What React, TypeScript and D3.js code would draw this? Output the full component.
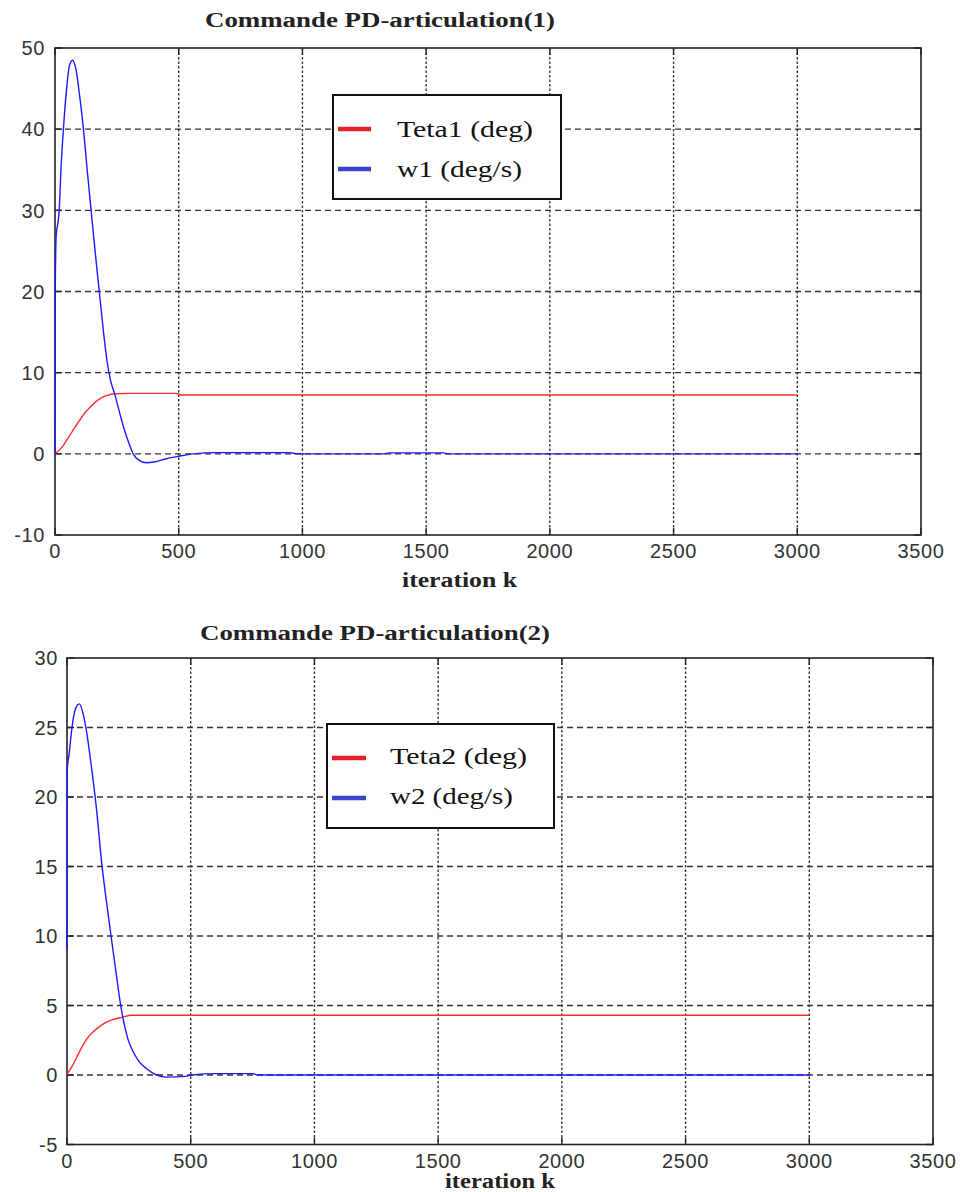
import React from "react";
import * as d3 from "d3";

// ---------- DATA ----------
const X_TICKS = [0, 500, 1000, 1500, 2000, 2500, 3000, 3500];
const Y_TICKS_1 = [-10, 0, 10, 20, 30, 40, 50];
const Y_TICKS_2 = [-5, 0, 5, 10, 15, 20, 25, 30];

// Chart 1 : Teta1 (deg)
const K_TETA1 = [0, 25, 50, 75, 101, 125, 150, 182, 210, 242, 300, 490, 510, 3000];
const TETA1 = [0, 0.7, 1.8, 3.0, 4.2, 5.2, 6.0, 6.8, 7.2, 7.4, 7.45, 7.45, 7.25, 7.25];

// Chart 1 : w1 (deg/s)
const K_W1 = [0, 1, 5, 12, 17, 24, 34, 47, 58, 71, 85, 100, 115, 130, 146, 162, 179, 196, 210, 225, 242, 260, 280, 300, 316, 340, 371, 400, 450, 500, 560, 650, 950, 980, 1330, 1350, 1570, 1590, 3000];
const W1 = [0, 20, 27, 28.5, 30, 35, 40, 45, 47.8, 48.5, 47.3, 44, 40, 35, 30, 25, 20, 15, 11.5, 9, 7.3, 5.2, 3, 1.2, 0, -0.8, -1.1, -1.0, -0.6, -0.3, 0, 0.15, 0.15, 0, 0, 0.12, 0.12, 0, 0];

// Chart 2 : Teta2 (deg)
const K_TETA2 = [0, 20, 40, 60, 80, 105, 133, 160, 187, 220, 262, 3000];
const TETA2 = [0.05, 0.6, 1.3, 2.0, 2.6, 3.1, 3.5, 3.8, 4.0, 4.15, 4.3, 4.3];

// Chart 2 : w2 (deg/s)
const K_W2 = [0, 1, 8, 15, 25, 38, 50, 65, 80, 100, 120, 140, 160, 178, 198, 217, 232, 246, 261, 290, 322, 362, 400, 480, 504, 605, 752, 770, 3000];
const W2 = [9, 22, 23, 24.2, 25.6, 26.5, 26.7, 26, 24.6, 22, 19, 15.3, 12.4, 10, 7.4, 5, 3.6, 2.6, 1.9, 1.0, 0.45, 0, -0.15, -0.1, 0, 0.1, 0.1, 0, 0];

const TITLES = ["Commande PD-articulation(1)", "Commande PD-articulation(2)"];
const LEGEND_1 = ["Teta1 (deg)", "w1 (deg/s)"];
const LEGEND_2 = ["Teta2 (deg)", "w2 (deg/s)"];
const X_LABEL = "iteration k";

const RED = "#ff2a2a";
const BLUE = "#1a1aff";
const LEG_RED = "#e8202a";
const LEG_BLUE = "#3b44d0";

type Series = { k: number[]; v: number[]; color: string };

interface ChartProps {
  left: number; right: number; top: number; bottom: number;
  yDomain: [number, number];
  yTicks: number[];
  series: Series[];
  title: string; titleX: number; titleY: number; titleW: number;
  xLabelX: number; xLabelY: number; xLabelW: number;
  legend: { box: [number, number, number, number]; texts: string[]; textW: number[]; lineX: [number, number]; rowY: number[]; textX: number; textDy: number };
  yLabelGap: number;
}

function Chart(p: ChartProps) {
  const x = d3.scaleLinear().domain([0, 3500]).range([p.left, p.right]);
  const y = d3.scaleLinear().domain(p.yDomain).range([p.bottom, p.top]);
  const line = d3.line<[number, number]>()
    .x((d) => x(d[0]))
    .y((d) => y(d[1]))
    .curve(d3.curveMonotoneX);
  const gridColor = "#333";
  const tickLen = 7;
  const [lx, ly, lw, lh] = p.legend.box;
  const legColors = [LEG_RED, LEG_BLUE];
  return (
    <g>
      {/* grid */}
      {X_TICKS.slice(1, -1).map((t) => (
        <line key={"gx" + t} x1={x(t)} x2={x(t)} y1={p.top} y2={p.bottom}
          stroke={gridColor} strokeWidth={1.4} strokeDasharray="2.5,2" />
      ))}
      {p.yTicks.slice(1, -1).map((t) => (
        <line key={"gy" + t} x1={p.left} x2={p.right} y1={y(t)} y2={y(t)}
          stroke={gridColor} strokeWidth={1.4} strokeDasharray="6,4" />
      ))}
      {/* ticks (inward, all sides) */}
      {X_TICKS.map((t) => (
        <g key={"tx" + t}>
          <line x1={x(t)} x2={x(t)} y1={p.bottom} y2={p.bottom - tickLen} stroke="#222" strokeWidth={1.4} />
          <line x1={x(t)} x2={x(t)} y1={p.top} y2={p.top + tickLen} stroke="#222" strokeWidth={1.4} />
        </g>
      ))}
      {p.yTicks.map((t) => (
        <g key={"ty" + t}>
          <line x1={p.left} x2={p.left + tickLen} y1={y(t)} y2={y(t)} stroke="#222" strokeWidth={1.4} />
          <line x1={p.right} x2={p.right - tickLen} y1={y(t)} y2={y(t)} stroke="#222" strokeWidth={1.4} />
        </g>
      ))}
      {/* frame */}
      <rect x={p.left} y={p.top} width={p.right - p.left} height={p.bottom - p.top}
        fill="none" stroke="#222" strokeWidth={1.6} />
      {/* series */}
      {p.series.map((s, i) => (
        <path key={"s" + i}
          d={line(s.k.map((k, j) => [k, s.v[j]] as [number, number])) || ""}
          fill="none" stroke={s.color} strokeWidth={1.4} />
      ))}
      {/* tick labels */}
      {X_TICKS.map((t) => (
        <text key={"lx" + t} x={x(t)} y={p.bottom + 23} textAnchor="middle"
          fontFamily="Liberation Sans, Arial, sans-serif" fontSize={20} fill="#333"
          letterSpacing={0.6}>{t}</text>
      ))}
      {p.yTicks.map((t) => (
        <text key={"ly" + t} x={p.left - p.yLabelGap} y={y(t)} dy="0.36em" textAnchor="end"
          fontFamily="Liberation Sans, Arial, sans-serif" fontSize={20} fill="#333"
          letterSpacing={0.6}>{t}</text>
      ))}
      {/* title */}
      <text x={p.titleX} y={p.titleY} fontFamily="Liberation Serif, Times New Roman, serif"
        fontWeight="bold" fontSize={20} fill="#222" textLength={p.titleW}
        lengthAdjust="spacingAndGlyphs">{p.title}</text>
      {/* x label */}
      <text x={p.xLabelX} y={p.xLabelY} fontFamily="Liberation Serif, Times New Roman, serif"
        fontWeight="bold" fontSize={22} fill="#222" textLength={p.xLabelW}
        lengthAdjust="spacingAndGlyphs">{X_LABEL}</text>
      {/* legend */}
      <rect x={lx} y={ly} width={lw} height={lh} fill="#fff" stroke="#111" strokeWidth={2} />
      {p.legend.texts.map((t, i) => (
        <g key={"lg" + i}>
          <line x1={p.legend.lineX[0]} x2={p.legend.lineX[1]} y1={p.legend.rowY[i]} y2={p.legend.rowY[i]}
            stroke={legColors[i]} strokeWidth={4.5} />
          <text x={p.legend.textX} y={p.legend.rowY[i] + p.legend.textDy}
            fontFamily="Liberation Serif, Times New Roman, serif" fontSize={24} fill="#111"
            textLength={p.legend.textW[i]} lengthAdjust="spacingAndGlyphs">{t}</text>
        </g>
      ))}
    </g>
  );
}

export default function App() {
  return (
    <svg width={964} height={1192} style={{ position: "absolute", left: 0, top: 0, display: "block", background: "#fff" }}>
      <rect x={0} y={0} width={964} height={1192} fill="#fff" />
      <Chart
        left={55} right={921} top={48} bottom={535}
        yDomain={[-10, 50]} yTicks={Y_TICKS_1}
        series={[
          { k: K_TETA1, v: TETA1, color: RED },
          { k: K_W1, v: W1, color: BLUE },
        ]}
        title={TITLES[0]} titleX={205} titleY={27} titleW={350}
        xLabelX={402} xLabelY={587} xLabelW={115}
        legend={{ box: [333, 95, 228, 104], texts: LEGEND_1, textW: [136, 125], lineX: [338, 371], rowY: [129, 169], textX: 397, textDy: 8 }}
        yLabelGap={10}
      />
      <Chart
        left={67} right={933} top={658} bottom={1144.5}
        yDomain={[-5, 30]} yTicks={Y_TICKS_2}
        series={[
          { k: K_TETA2, v: TETA2, color: RED },
          { k: K_W2, v: W2, color: BLUE },
        ]}
        title={TITLES[1]} titleX={200} titleY={640} titleW={350}
        xLabelX={445} xLabelY={1188} xLabelW={110}
        legend={{ box: [327, 724, 227, 104], texts: LEGEND_2, textW: [137, 123], lineX: [332, 366], rowY: [758, 798], textX: 390, textDy: 6 }}
        yLabelGap={9}
      />
    </svg>
  );
}
